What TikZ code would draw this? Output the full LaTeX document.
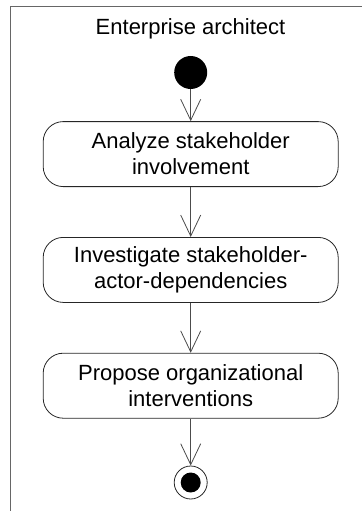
\documentclass[tikz,border=0pt]{standalone}
\usepackage{fontspec}
\setmainfont{Liberation Sans}
\usepackage{tikz}
\usetikzlibrary{arrows.meta, positioning}

\begin{document}
\begin{tikzpicture}[
      x=1pt, y=1pt,
      action/.style={rectangle, rounded corners=20pt, draw=black!85, line width=0.8pt,
                     minimum width=295pt, minimum height=65pt, align=center,
                     font=\fontsize{22}{26}\selectfont},
      initial/.style={circle, fill=black, minimum size=33pt, inner sep=0pt},
      final/.style ={circle, draw=black!85, line width=0.8pt, minimum size=33pt, inner sep=0pt},
      flow/.style  ={draw=black!70, line width=0.8pt, -{Straight Barb[length=21pt, width=20pt, line width=0.8pt]}},
      node distance=50pt
    ]
    \useasboundingbox (0,0) rectangle (362,-511);

    % Swimlane
    \draw[black!60, line width=1.2pt] (10.5,-511) -- (10.5,-6.5) -- (362,-6.5);
    \node[font=\fontsize{22}{26}\selectfont] (lane) at (190.5,-29) {Enterprise architect};

    % Start
    \node[initial] (start) at (190.7,-72.5) {};

    % Aktiviteter
    \node[action, below=32pt of start] (A1) {Analyze stakeholder\\involvement};
    \node[action, below=of A1]         (A2) {Investigate stakeholder-\\actor-dependencies};
    \node[action, below=of A2]         (A3) {Propose organizational\\interventions};

    % Slutt
    \node[final, below=47pt of A3] (stop) {};
    \node[initial, minimum size=20pt] (stopin) at (stop) {};

    % Piler
    \draw[flow] (start) -- (A1);
    \draw[flow] (A1) -- (A2);
    \draw[flow] (A2) -- (A3);
    \draw[flow] (A3) -- (stop);

  \end{tikzpicture}
\end{document}
